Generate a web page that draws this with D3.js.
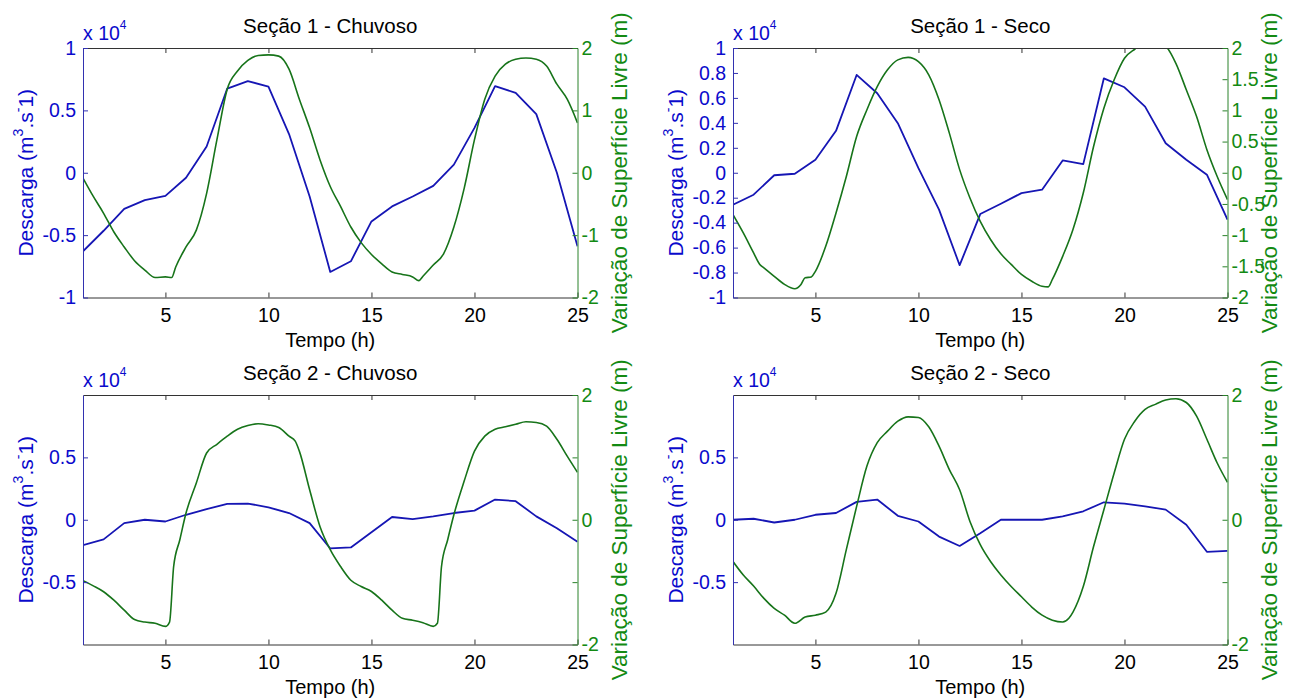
<!DOCTYPE html>
<html>
<head>
<meta charset="utf-8">
<script src="https://cdn.jsdelivr.net/npm/d3@7"></script>
<style>
  html, body { margin: 0; padding: 0; background: #fff; }
  svg { display: block; }
  text { font-family: "Liberation Sans", Arial, Helvetica, sans-serif; }
</style>
</head>
<body>
<svg id="chart" width="1295" height="698"></svg>
<script>
// Time axis (hours) shared by all discharge series
const hours = [1, 2, 3, 4, 5, 6, 7, 8, 9, 10, 11, 12, 13, 14, 15, 16, 17, 18, 19, 20, 21, 22, 23, 24, 25];

// Discharge (x 10^4 m3/s), hourly
const descargaS1Chuvoso = [-0.63, -0.465, -0.29, -0.22, -0.185, -0.04, 0.21, 0.675, 0.735, 0.69, 0.31, -0.19, -0.795, -0.71, -0.39, -0.27, -0.19, -0.105, 0.065, 0.36, 0.695, 0.64, 0.47, 0.0, -0.59];
const descargaS1Seco = [-0.256, -0.176, -0.02, -0.008, 0.104, 0.336, 0.784, 0.637, 0.397, 0.037, -0.296, -0.741, -0.331, -0.248, -0.163, -0.136, 0.099, 0.069, 0.757, 0.685, 0.53, 0.237, 0.104, -0.016, -0.376];
const descargaS2Chuvoso = [-0.203, -0.157, -0.027, 0.0, -0.014, 0.04, 0.086, 0.127, 0.13, 0.10, 0.054, -0.027, -0.23, -0.222, -0.10, 0.022, 0.005, 0.027, 0.054, 0.073, 0.162, 0.149, 0.027, -0.068, -0.176];
const descargaS2Seco = [0.0, 0.008, -0.022, 0.0, 0.04, 0.054, 0.143, 0.162, 0.032, -0.014, -0.135, -0.21, -0.108, 0.0, 0.0, 0.0, 0.027, 0.068, 0.14, 0.13, 0.108, 0.081, -0.04, -0.257, -0.249];

// Free-surface variation (m): sample times and values
const nivelTempoS1Chuvoso = [1, 1.5, 2, 2.5, 3, 3.5, 4, 4.5, 5, 5.3, 5.5, 6, 6.5, 7, 7.5, 8, 8.5, 9, 9.5, 10, 10.5, 11, 11.5, 12, 12.5, 13, 13.5, 14, 14.5, 15, 15.5, 16, 16.5, 17, 17.3, 17.5, 18, 18.5, 19, 19.5, 20, 20.5, 21, 21.5, 22, 22.5, 23, 23.5, 24, 24.5, 25];
const nivelS1Chuvoso = [-0.086, -0.38, -0.65, -0.95, -1.19, -1.41, -1.56, -1.68, -1.67, -1.68, -1.51, -1.19, -0.92, -0.33, 0.53, 1.34, 1.63, 1.80, 1.88, 1.89, 1.87, 1.66, 1.18, 0.72, 0.21, -0.22, -0.54, -0.87, -1.12, -1.31, -1.46, -1.59, -1.63, -1.67, -1.73, -1.66, -1.48, -1.30, -0.87, -0.25, 0.53, 1.18, 1.55, 1.74, 1.82, 1.84, 1.82, 1.71, 1.42, 1.18, 0.80];

const nivelTempoS1Seco = [1, 1.5, 2, 2.3, 2.5, 3, 3.5, 4, 4.3, 4.5, 4.8, 5, 5.5, 6, 6.5, 7, 7.5, 8, 8.5, 9, 9.5, 10, 10.5, 11, 11.5, 12, 12.5, 13, 13.5, 14, 14.5, 15, 15.5, 16, 16.3, 16.5, 17, 17.5, 18, 18.5, 19, 19.5, 20, 20.5, 21, 21.5, 22, 22.5, 23, 23.5, 24, 24.5, 25];
const nivelS1Seco = [-0.672, -0.965, -1.285, -1.47, -1.525, -1.66, -1.79, -1.86, -1.79, -1.685, -1.67, -1.58, -1.18, -0.645, -0.06, 0.58, 1.01, 1.38, 1.65, 1.81, 1.85, 1.78, 1.57, 1.17, 0.635, 0.05, -0.405, -0.78, -1.07, -1.30, -1.47, -1.63, -1.74, -1.82, -1.83, -1.71, -1.34, -0.91, -0.325, 0.42, 1.035, 1.49, 1.835, 1.98, 2.08, 2.1, 2.03, 1.75, 1.33, 0.90, 0.37, -0.06, -0.43];

const nivelTempoS2Chuvoso = [1, 1.5, 2, 2.5, 3, 3.5, 4, 4.5, 5, 5.2, 5.4, 5.7, 6, 6.5, 7, 7.5, 8, 8.5, 9, 9.5, 10, 10.5, 11, 11.3, 11.5, 12, 12.5, 13, 13.5, 14, 14.5, 15, 15.5, 16, 16.5, 17, 17.5, 18, 18.2, 18.4, 18.7, 19, 19.5, 20, 20.5, 21, 21.5, 22, 22.5, 23, 23.5, 24, 24.5, 25];
const nivelS2Chuvoso = [-0.977, -1.06, -1.154, -1.29, -1.45, -1.60, -1.64, -1.66, -1.71, -1.64, -0.75, -0.32, 0.107, 0.59, 1.07, 1.21, 1.34, 1.45, 1.51, 1.54, 1.52, 1.48, 1.34, 1.26, 1.10, 0.48, -0.107, -0.48, -0.75, -0.97, -1.07, -1.15, -1.29, -1.45, -1.58, -1.61, -1.65, -1.71, -1.66, -0.75, -0.32, 0.08, 0.62, 1.10, 1.34, 1.45, 1.49, 1.53, 1.57, 1.56, 1.50, 1.29, 1.02, 0.76];

const nivelTempoS2Seco = [1, 1.5, 2, 2.5, 3, 3.5, 4, 4.5, 5, 5.5, 6, 6.5, 7, 7.5, 8, 8.5, 9, 9.5, 10, 10.5, 11, 11.5, 12, 12.5, 13, 13.5, 14, 14.5, 15, 15.5, 16, 16.5, 17, 17.3, 17.5, 18, 18.5, 19, 19.5, 20, 20.5, 21, 21.5, 22, 22.5, 23, 23.5, 24, 24.5, 25];
const nivelS2Seco = [-0.67, -0.886, -1.063, -1.26, -1.42, -1.53, -1.66, -1.56, -1.53, -1.48, -1.18, -0.48, 0.215, 0.86, 1.235, 1.42, 1.58, 1.65, 1.64, 1.49, 1.18, 0.805, 0.48, -0.027, -0.40, -0.67, -0.886, -1.07, -1.235, -1.40, -1.53, -1.61, -1.64, -1.58, -1.48, -1.07, -0.43, 0.16, 0.75, 1.29, 1.58, 1.77, 1.85, 1.92, 1.94, 1.88, 1.66, 1.29, 0.91, 0.60];

// Titles and tick labels
const titles = ["Seção 1 - Chuvoso", "Seção 1 - Seco", "Seção 2 - Chuvoso", "Seção 2 - Seco"];
const xTicks = [5, 10, 15, 20, 25];
const leftTicksS1Chuvoso = [-1, -0.5, 0, 0.5, 1];
const leftTicksS1Seco = [-1, -0.8, -0.6, -0.4, -0.2, 0, 0.2, 0.4, 0.6, 0.8, 1];
const leftTicksS2 = [-0.5, 0, 0.5];
const rightTicksS1Chuvoso = [-2, -1, 0, 1, 2];
const rightTicksS1Seco = [-2, -1.5, -1, -0.5, 0, 0.5, 1, 1.5, 2];
const rightTicksS2 = [-2, -1, 0, 1, 2];
const rightLabelsS2 = [-2, 0, 2];

const BLUE_TEXT = "#0a0acc";
const BLUE_LINE = "#1616b4";
const GREEN_TEXT = "#138a13";
const GREEN_LINE = "#17741a";

const panels = [
  { title: titles[0], x: 83, y: 48, q: descargaS1Chuvoso, lt: leftTicksS1Chuvoso, ll: leftTicksS1Chuvoso,
    nt: nivelTempoS1Chuvoso, n: nivelS1Chuvoso, rt: rightTicksS1Chuvoso, rl: rightTicksS1Chuvoso },
  { title: titles[1], x: 733, y: 48, q: descargaS1Seco, lt: leftTicksS1Seco, ll: leftTicksS1Seco,
    nt: nivelTempoS1Seco, n: nivelS1Seco, rt: rightTicksS1Seco, rl: rightTicksS1Seco },
  { title: titles[2], x: 83, y: 395, q: descargaS2Chuvoso, lt: leftTicksS2, ll: leftTicksS2,
    nt: nivelTempoS2Chuvoso, n: nivelS2Chuvoso, rt: rightTicksS2, rl: rightLabelsS2 },
  { title: titles[3], x: 733, y: 395, q: descargaS2Seco, lt: leftTicksS2, ll: leftTicksS2,
    nt: nivelTempoS2Seco, n: nivelS2Seco, rt: rightTicksS2, rl: rightLabelsS2 }
];

const W = 494.5, H = 249.5;
const TICK_FONT = "19.5px";
const svg = d3.select("#chart");
const fmt = d => String(d);

panels.forEach((p, i) => {
  const g = svg.append("g").attr("transform", `translate(${p.x},${p.y})`);
  const x = d3.scaleLinear().domain([1, 25]).range([0, W]);
  const yL = d3.scaleLinear().domain([-1, 1]).range([H, 0]);
  const yR = d3.scaleLinear().domain([-2, 2]).range([H, 0]);

  const clipId = "clip" + i;
  g.append("clipPath").attr("id", clipId)
    .append("rect").attr("x", 0).attr("y", 0).attr("width", W).attr("height", H);

  // Series
  const plot = g.append("g").attr("clip-path", `url(#${clipId})`);
  plot.append("path")
    .datum(hours.map((h, k) => [h, p.q[k]]))
    .attr("fill", "none").attr("stroke", BLUE_LINE).attr("stroke-width", 1.8)
    .attr("stroke-linejoin", "round")
    .attr("d", d3.line().x(d => x(d[0])).y(d => yL(d[1])));
  plot.append("path")
    .datum(p.nt.map((t, k) => [t, p.n[k]]))
    .attr("fill", "none").attr("stroke", GREEN_LINE).attr("stroke-width", 1.6)
    .attr("stroke-linejoin", "round")
    .attr("d", d3.line().curve(d3.curveMonotoneX).x(d => x(d[0])).y(d => yR(d[1])));

  // Bottom axis (ticks point inward)
  const xa = g.append("g").attr("transform", `translate(0,${H})`)
    .call(d3.axisBottom(x).tickValues(xTicks).tickFormat(fmt).tickSize(-5).tickSizeOuter(0).tickPadding(11));
  xa.select(".domain").attr("stroke", "#333");
  xa.selectAll(".tick line").attr("stroke", "#333");
  xa.selectAll("text").attr("fill", "#000").style("font-size", TICK_FONT);

  // Top axis: ticks only
  const xt = g.append("g")
    .call(d3.axisTop(x).tickValues(xTicks.filter(v => v < 25)).tickFormat("").tickSize(-5).tickSizeOuter(0));
  xt.select(".domain").attr("stroke", "#333");
  xt.selectAll(".tick line").attr("stroke", "#333");

  // Left axis
  const ya = g.append("g")
    .call(d3.axisLeft(yL).tickValues(p.lt).tickFormat(d => p.ll.includes(d) ? fmt(d) : "")
      .tickSize(-5).tickSizeOuter(0).tickPadding(7));
  ya.select(".domain").attr("stroke", "#3232b0");
  ya.selectAll(".tick line").attr("stroke", "#3232b0");
  ya.selectAll("text").attr("fill", BLUE_TEXT).style("font-size", TICK_FONT);

  // Right axis
  const yr = g.append("g").attr("transform", `translate(${W},0)`)
    .call(d3.axisRight(yR).tickValues(p.rt).tickFormat(d => p.rl.includes(d) ? fmt(d) : "")
      .tickSize(-5).tickSizeOuter(0).tickPadding(4));
  yr.select(".domain").attr("stroke", "#2a822a");
  yr.selectAll(".tick line").attr("stroke", "#2a822a");
  yr.selectAll("text").attr("fill", GREEN_TEXT).style("font-size", TICK_FONT);

  // Title
  g.append("text").attr("x", W / 2).attr("y", -15).attr("text-anchor", "middle")
    .attr("fill", "#000").style("font-size", "20.5px").text(p.title);

  // Exponent marker
  const ex = g.append("text").attr("x", 0).attr("y", -8).attr("fill", BLUE_TEXT).style("font-size", "19.5px");
  ex.append("tspan").text("x 10");
  ex.append("tspan").attr("dy", -11).style("font-size", "12px").text("4");

  // X label
  g.append("text").attr("x", W / 2).attr("y", H + 49).attr("text-anchor", "middle")
    .attr("fill", "#000").style("font-size", "20px").text("Tempo (h)");

  // Left Y label
  const yl = g.append("text").attr("transform", `translate(-50,${H / 2}) rotate(-90)`)
    .attr("text-anchor", "middle").attr("fill", BLUE_TEXT).style("font-size", "21px");
  yl.append("tspan").text("Descarga (m");
  yl.append("tspan").attr("dy", -10).style("font-size", "14px").text("3");
  yl.append("tspan").attr("dy", 10).text(".s");
  yl.append("tspan").attr("dy", -10).style("font-size", "14px").text("-");
  yl.append("tspan").attr("dy", 10).text("1)");

  // Right Y label
  g.append("text").attr("transform", `translate(${W + 49},${H / 2}) rotate(-90)`)
    .attr("text-anchor", "middle").attr("fill", GREEN_TEXT).style("font-size", "22.5px")
    .text("Variação de Superfície Livre (m)");
});
</script>
</body>
</html>
